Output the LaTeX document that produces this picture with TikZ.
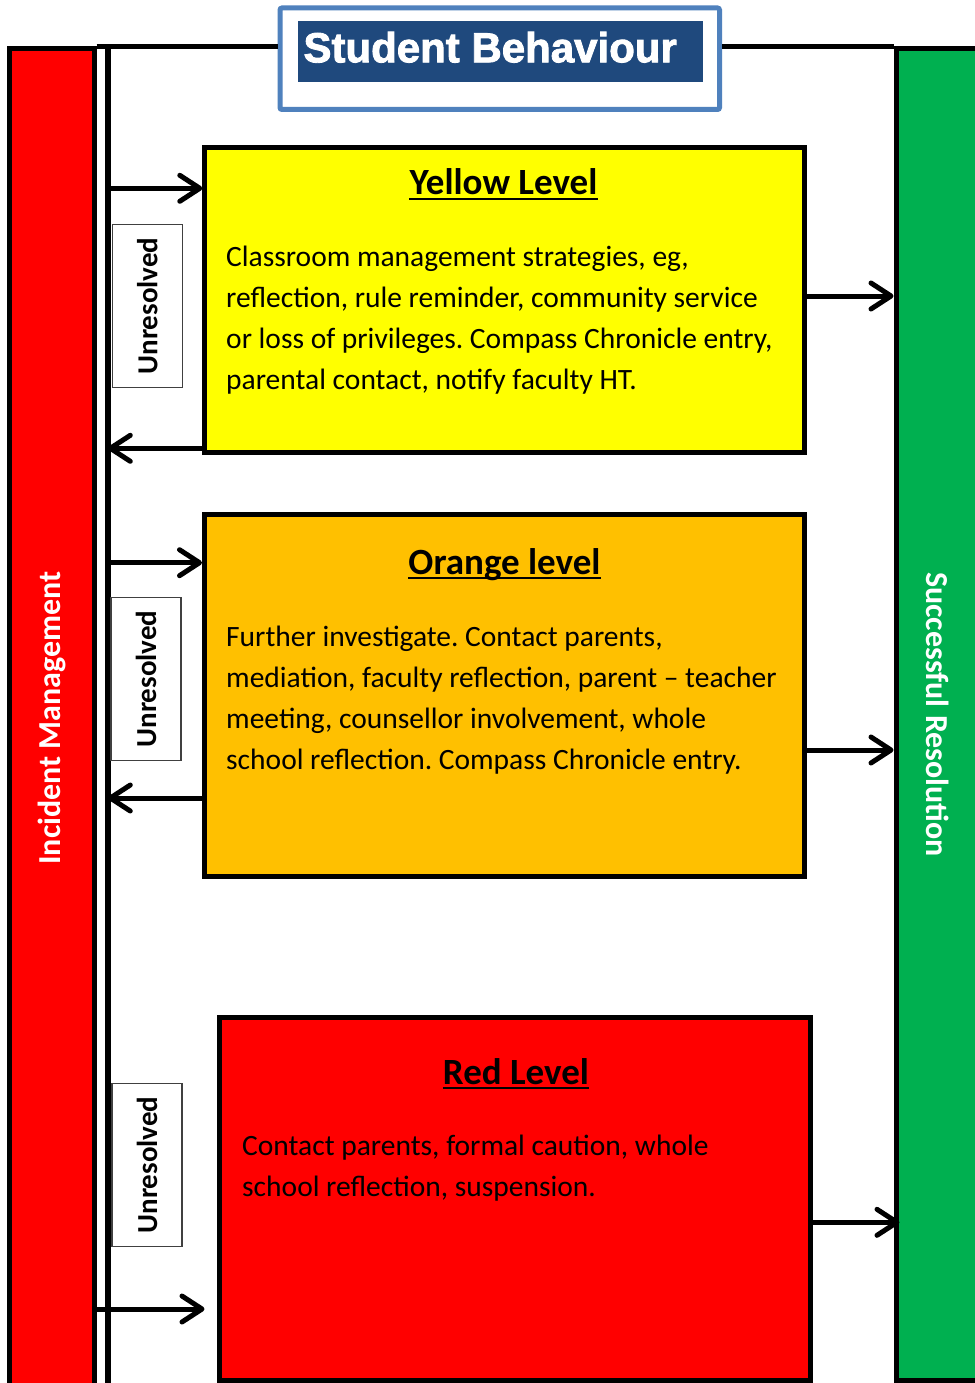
\documentclass[tikz,border=0pt]{standalone}
\usepackage{fontspec}
\setmainfont{Carlito}
\newfontfamily\titlefont[BoldFont={Liberation Sans Bold}, BoldFeatures={FakeBold=2}]{Liberation Sans}
\usetikzlibrary{arrows.meta}
\definecolor{imred}{HTML}{FF0000}
\definecolor{srgreen}{HTML}{00B050}
\definecolor{lvyellow}{HTML}{FFFF00}
\definecolor{lvorange}{HTML}{FFC000}
\definecolor{titlenavy}{HTML}{1F497D}
\definecolor{titleblue}{HTML}{4F81BD}
\frenchspacing
\begin{document}
\begin{tikzpicture}[x=1pt,y=-1pt,
  bar/.style={draw=black, line width=5pt, rectangle, inner sep=0pt},
  levelbox/.style={draw=black, line width=5pt, rectangle, inner sep=0pt},
  unres/.style={draw=black!75, line width=1.5pt, fill=white, rotate=90, inner sep=0pt,
    minimum width=163pt, minimum height=70pt, font=\fontsize{29}{32}\selectfont\bfseries},
  bartext/.style={text=white, font=\fontsize{32}{35}\selectfont\bfseries},
  heading/.style={anchor=base, inner sep=0pt, font=\fontsize{37}{41}\selectfont\bfseries},
  body/.style={anchor=north west, inner sep=0pt, align=left, font=\fontsize{29.5}{41}\selectfont},
  arr/.style={line width=5pt, -{Straight Barb[length=20pt,width=26pt,round]}},
  uline/.style={line width=2.5pt},
  frameline/.style={line width=5.5pt},
]
\useasboundingbox (0,0) rectangle (974,1383);
\fill[white] (0,0) rectangle (974,1383);

% side bars
\node[bar, fill=imred, rotate=90, minimum width=1338pt, minimum height=84.4pt, bartext] (im) at (52,718) {Incident Management};
\node[bar, fill=srgreen, rotate=-90, minimum width=1331pt, minimum height=84pt, bartext] (sr) at (938,714.5) {Successful Resolution};

% title
\node[draw=titleblue, line width=5pt, fill=white, rounded corners=2pt, minimum width=439.5pt, minimum height=101.5pt, inner sep=0pt] (title) at (499.75,58.75) {};
\node[fill=titlenavy, minimum width=404.7pt, minimum height=60.7pt, inner sep=0pt] (titlebar) at (500.3,51.3) {};
\node[anchor=base west, inner sep=0pt, text=white, font=\titlefont\fontsize{42}{46}\selectfont\bfseries] (titletext) at (303.3,62.3) {Student Behaviour};

% frame lines
\coordinate (vtop) at (107.8,48.5);
\coordinate (vbot) at (107.8,1395);
\draw[frameline] (vtop) -- (vbot);
\draw[frameline] (im.south east) -- (im.south east -| title.west);
\draw[frameline] (title.east |- sr.south west) -- (sr.south west);

% level boxes
\node[levelbox, fill=lvyellow, minimum width=599.4pt, minimum height=304.5pt] (yellow) at (504.5,299.8) {};
\node[levelbox, fill=lvorange, minimum width=600pt, minimum height=362pt] (orange) at (504.5,695) {};
\node[levelbox, fill=imred, minimum width=591pt, minimum height=363pt] (red) at (514.5,1198.5) {};

% headings
\node[heading] (yh) at (503.5,195) {Yellow Level};
\draw[uline] ([yshift=-4pt]yh.base west) -- ([yshift=-4pt]yh.base east);
\node[heading] (oh) at (504.5,574) {Orange level};
\draw[uline] ([yshift=-4pt]oh.base west) -- ([yshift=-4pt]oh.base east);
\node[heading] (rh) at (516,1084) {Red Level};
\draw[uline] ([yshift=-4pt]rh.base west) -- ([yshift=-4pt]rh.base east);

% body texts
\node[body] (yb) at (226,241) {\rule{0pt}{25pt}Classroom management strategies, eg,\\reflection, rule reminder, community service\\or loss of privileges. Compass Chronicle entry,\\parental contact, notify faculty HT.};
\node[body] (ob) at (226,621) {\rule{0pt}{25pt}Further investigate. Contact parents,\\mediation, faculty reflection, parent – teacher\\meeting, counsellor involvement, whole\\school reflection. Compass Chronicle entry.};
\node[body] (rb) at (242,1130) {\rule{0pt}{25pt}Contact parents, formal caution, whole\\school reflection, suspension.};

% unresolved tags
\node[unres] (u1) at (147.3,306) {Unresolved};
\node[unres] (u2) at (146,679) {Unresolved};
\node[unres] (u3) at (147,1165) {Unresolved};

% arrows
\draw[arr] (vtop |- 0,188.3) -- (yellow.west |- 0,188.3);
\draw[arr] (yellow.west |- 0,448.3) -- (vtop |- 0,448.3);
\draw[arr] (yellow.east |- 0,296) -- (sr.south |- 0,296);
\draw[arr] (vtop |- 0,562.7) -- (orange.west |- 0,562.7);
\draw[arr] (orange.west |- 0,798) -- (vtop |- 0,798);
\draw[arr] (orange.east |- 0,750) -- (sr.south |- 0,750);
\draw[arr] (im.south |- 0,1309) -- ([xshift=-12pt]red.west |- 0,1309);
\draw[arr] (red.east |- 0,1222.3) -- ([xshift=6pt]sr.south |- 0,1222.3);
\end{tikzpicture}
\end{document}
